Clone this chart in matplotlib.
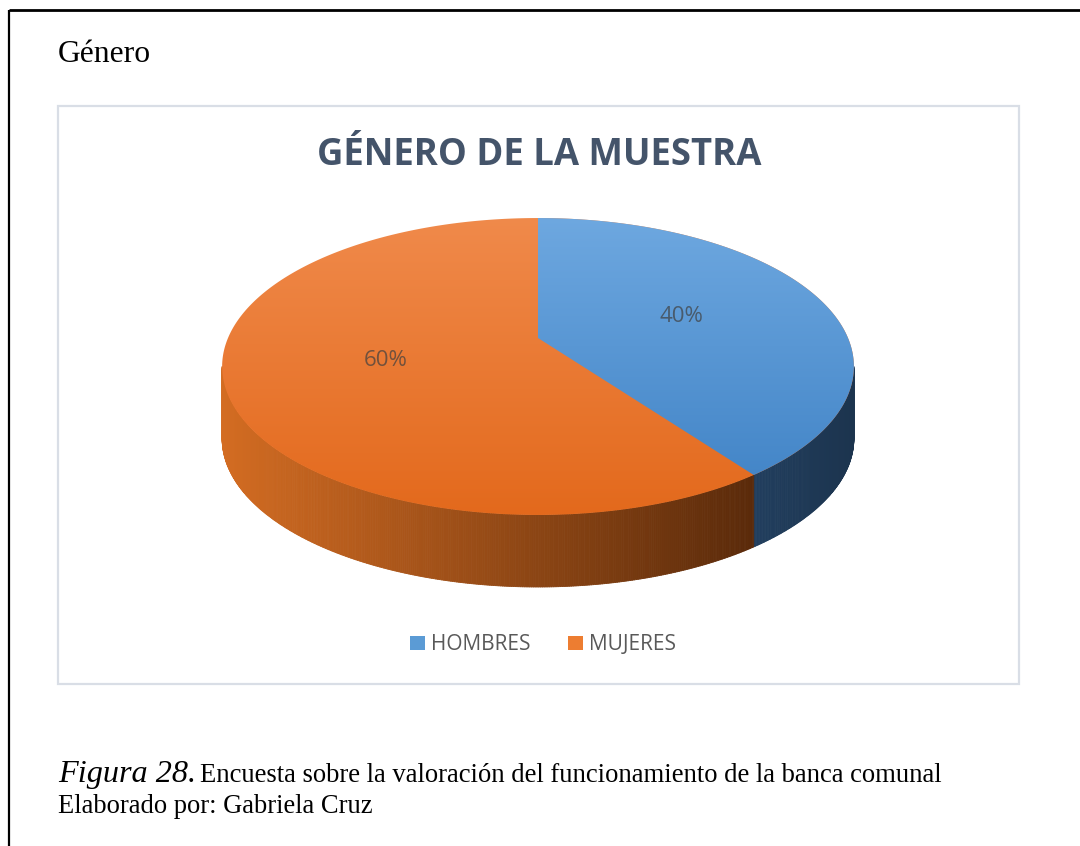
import numpy as np
import matplotlib.pyplot as plt
from matplotlib.patches import Polygon, Rectangle, Patch
from matplotlib.collections import PolyCollection
from matplotlib.colors import LinearSegmentedColormap, to_rgb

# data
labels = ['HOMBRES', 'MUJERES']
values = [40, 60]
pct_labels = ['40%', '60%']
legend_colors = ['#5B9BD5', '#ED7D31']
top_colors = [('#6EA8E0', '#4486C8'), ('#F08A4B', '#E3691C')]
side_colors = [('#213E5E', '#1C344E'), ('#D36C22', '#5A2A0A')]

title = 'GÉNERO DE LA MUESTRA'
heading = 'Género'
fig_label = 'Figura 28.'
caption = 'Encuesta sobre la valoración del funcionamiento de la banca comunal'
author = 'Elaborado por: Gabriela Cruz'

# pie geometry (pixels), simple perspective tilt
CX, CY = 538, 338
RX, RY = 310, 143
K = 0.192
DEPTH = 72


def rim(theta, frac=1.0):
    """Screen position of an angle (deg, clockwise from 12 o'clock) on the top face."""
    t = np.radians(theta)
    u, v = frac * np.sin(t), frac * np.cos(t)
    w = 1 + K * v
    return CX + RX * u / w, CY - RY * v / w


def fit_width(txt, width):
    r = fig.canvas.get_renderer()
    w = txt.get_window_extent(renderer=r).width
    txt.set_fontsize(txt.get_fontsize() * width / w)


fig = plt.figure(figsize=(10.8, 8.46), dpi=100)
ax = fig.add_axes([0, 0, 1, 1])
ax.axis('off')

# page borders
ax.plot([9, 9], [10, 846], color='black', lw=1.6, solid_capstyle='butt')
ax.plot([9, 1080], [10.5, 10.5], color='black', lw=2.0, solid_capstyle='butt')
ax.add_patch(Rectangle((58, 106), 961, 578, facecolor='white',
                       edgecolor='#D9DEE6', lw=1.6, zorder=1))

# slice angles
total = sum(values)
bounds = np.concatenate([[0], np.cumsum(values) / total * 360])
vis_lo = 90 + np.degrees(np.arcsin(K))
vis_hi = 360 - vis_lo

# side walls
for i in range(len(values)):
    a, b = max(bounds[i], vis_lo), min(bounds[i + 1], vis_hi)
    if a >= b:
        continue
    ts = np.linspace(a, b, int((b - a) * 3) + 2)
    xs, ys = rim(ts)
    c0, c1 = np.array(to_rgb(side_colors[i][0])), np.array(to_rgb(side_colors[i][1]))
    xmin, xmax = xs.min(), xs.max()
    polys, cols = [], []
    for j in range(len(ts) - 1):
        polys.append([(xs[j], ys[j]), (xs[j + 1], ys[j + 1]),
                      (xs[j + 1], ys[j + 1] + DEPTH), (xs[j], ys[j] + DEPTH)])
        f = ((xs[j] + xs[j + 1]) / 2 - xmin) / (xmax - xmin)
        cols.append(c0 + (c1 - c0) * f)
    ax.add_collection(PolyCollection(polys, facecolors=cols, edgecolors=cols,
                                     lw=0.6, zorder=2))

# top faces with vertical gradient; drawn back to front from 0 deg so that
# neighbouring slices overlap and no seam shows
for i in reversed(range(len(values))):
    ts = np.linspace(bounds[0], bounds[i + 1], 400)
    xs, ys = rim(ts)
    pts = np.vstack([[CX, CY], np.column_stack([xs, ys])])
    poly = Polygon(pts, closed=True, facecolor='none', edgecolor='none', zorder=3)
    ax.add_patch(poly)
    own = rim(np.linspace(bounds[i], bounds[i + 1], 200))
    cmap = LinearSegmentedColormap.from_list('g%d' % i, list(top_colors[i]))
    grad = np.linspace(0, 1, 256).reshape(-1, 1)
    im = ax.imshow(grad, cmap=cmap, aspect='auto', origin='upper',
                   extent=[pts[:, 0].min() - 2, pts[:, 0].max() + 2,
                           max(own[1].max(), CY) + 2, min(own[1].min(), CY) - 2],
                   zorder=3, interpolation='bilinear')
    im.set_clip_path(poly)

for i in range(len(values)):
    mid = (bounds[i] + bounds[i + 1]) / 2
    lx, ly = rim(mid, 0.5)
    ax.text(lx, ly, pct_labels[i], ha='center', va='center', fontsize=16,
            color='#404040', alpha=0.7, family='Open Sans', zorder=5)

# texts
t = ax.text(539, 165, title, ha='center', va='baseline', fontsize=24,
            fontweight='bold', color='#44546A', family='Open Sans')
fit_width(t, 446)
t = ax.text(58, 62, heading, ha='left', va='baseline', fontsize=24,
            color='black', family='Liberation Serif')
fit_width(t, 93)
t = ax.text(58, 782, fig_label, ha='left', va='baseline', fontsize=22,
            style='italic', color='black', family='Liberation Serif')
fit_width(t, 138)
t = ax.text(200, 782, caption, ha='left', va='baseline', fontsize=18,
            color='black', family='Liberation Serif')
fit_width(t, 745)
t = ax.text(58, 813, author, ha='left', va='baseline', fontsize=18,
            color='black', family='Liberation Serif')
fit_width(t, 315)

handles = [Patch(facecolor=c, edgecolor='none', label=l)
           for c, l in zip(legend_colors, labels)]
ax.legend(handles=handles, loc='center', bbox_to_anchor=(543, 645),
          bbox_transform=ax.transData, ncol=2, frameon=False,
          prop={'family': 'Open Sans', 'size': 15}, labelcolor='#595959',
          handlelength=0.7, handleheight=0.7, handletextpad=0.3,
          columnspacing=1.8)

ax.set_xlim(0, 1080)
ax.set_ylim(846, 0)
fig.savefig('out.png', dpi=100, facecolor='white')
